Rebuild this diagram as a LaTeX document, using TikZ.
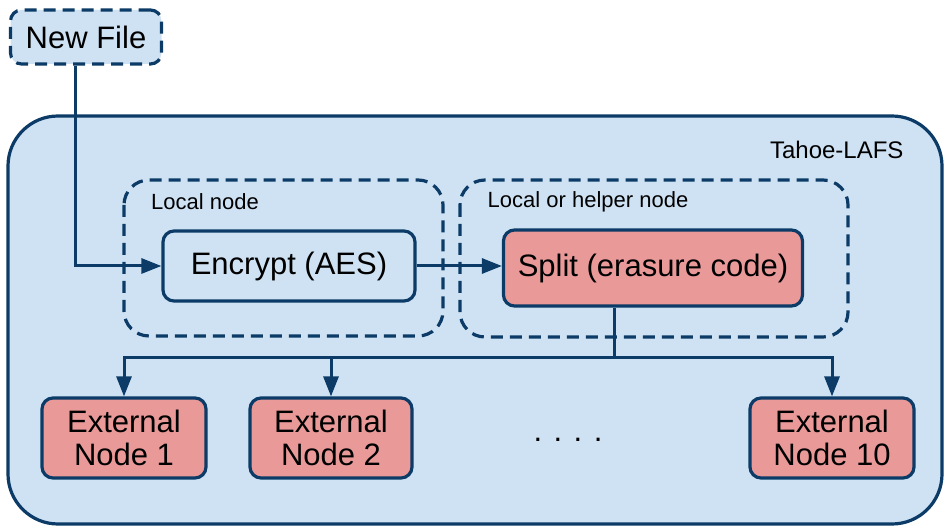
\documentclass[tikz,border=0pt]{standalone}
\usepackage{fontspec}
\setmainfont{Liberation Sans}
\usetikzlibrary{arrows.meta,positioning}

\definecolor{lafsblue}{HTML}{CFE2F3}
\definecolor{lafsline}{HTML}{0B3B66}
\definecolor{lafsred}{HTML}{EA9999}

\tikzset{
  box/.style={draw=lafsline,line width=3.2pt,rounded corners=11pt,font=\fontsize{31}{33}\selectfont},
  bluebox/.style={box,fill=lafsblue},
  redbox/.style={box,fill=lafsred},
  group/.style={draw=lafsline,line width=3.2pt,dash pattern=on 12pt off 7pt,rounded corners=25pt},
  small/.style={font=\fontsize{22}{24}\selectfont},
  link/.style={draw=lafsline,line width=3pt,-{Triangle[length=20pt,width=15pt]}}
}

\begin{document}
\begin{tikzpicture}[x=1pt,y=-1pt]
   \useasboundingbox (0,0) rectangle (944,526);

   % outer system
   \draw[draw=lafsline,fill=lafsblue,line width=3.2pt,rounded corners=50pt] (8,116) rectangle (942,524);
   \node[font=\fontsize{24}{26}\selectfont,anchor=east] (lafs) at (907,150) {Tahoe-LAFS};

   % local and helper groups
   \draw[group] (124,180) rectangle (443,336);
   \draw[group] (460,180) rectangle (848,337);
   \node[small] (loclbl) at (205,202) {Local node};
   \node[small] (helplbl) at (588,202) {Local or helper node};

   \node[bluebox,dash pattern=on 12pt off 7pt,minimum width=151pt,minimum height=54pt] (newfile) at (86,37) {New File};
   \node[bluebox,minimum width=252pt,minimum height=70pt] (encrypt) at (289,266) {Encrypt (AES)};
   \node[redbox,minimum width=299pt,minimum height=76pt] (split) at (653,268) {Split (erasure code)};

   \node[redbox,align=center,minimum width=164pt,minimum height=80pt] (ext1) at (124,438) {External\\Node 1};
   \node[redbox,align=center,minimum width=162pt,minimum height=80pt] (ext2) at (331,438) {External\\Node 2};
   \node[redbox,align=center,minimum width=164pt,minimum height=80pt] (ext10) at (832,438) {External\\Node 10};
   \node[font=\fontsize{31}{33}\selectfont] (dots) at (568,440) {. . . .};

   \coordinate (drop) at (75,0);
   \coordinate (tap) at (614,0);
   \coordinate (bus) at (614,357);

   \path[link] (drop |- newfile.south) |- (encrypt.west);
   \path[link] (encrypt.east) -- (split.west |- encrypt.east);
   \draw[draw=lafsline,line width=3pt] (tap |- split.south) -- (bus);
   \path[link] (bus) -| (ext1.north);
   \path[link] (bus) -| (ext2.north);
   \path[link] (bus) -| (ext10.north);
\end{tikzpicture}
\end{document}
